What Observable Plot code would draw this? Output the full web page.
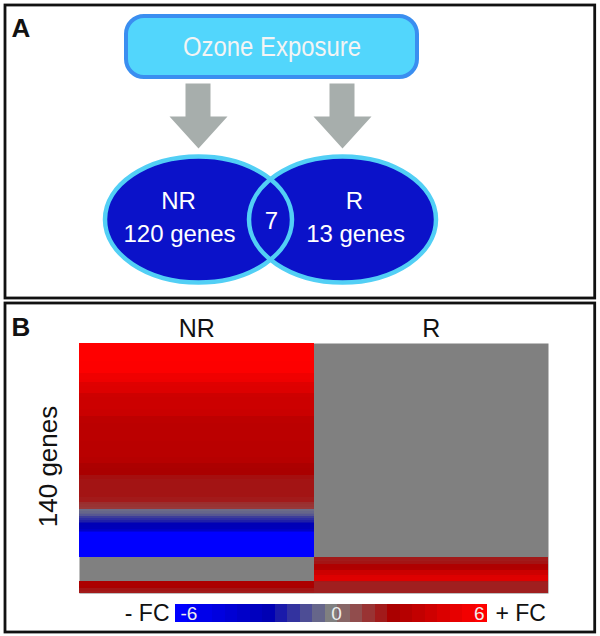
<!DOCTYPE html>
<html><head><meta charset="utf-8">
<script src="https://cdn.jsdelivr.net/npm/d3@7"></script>
<script src="https://cdn.jsdelivr.net/npm/@observablehq/plot@0.6"></script>
<style>
html,body{margin:0;padding:0;background:#fff;}
#fig{position:relative;width:600px;height:636px;}
#fig svg{position:absolute;left:0;overflow:visible;}
</style></head><body><div id="fig"></div>
<script>
// ---------- data ----------
const conditions = ["NR", "R"];
const geneAxisLabel = "140 genes";
// log fold change per gene (row), null = not significant (gray)
const nrFC = [
  6,6,6,6,6,6,6,6,6,6,5.9,5.9,5.9,5.9,5.9,5.9,5.9,
  5.4,5.4,5.4,5.3,5.3,
  4.7,4.7,4.6,4.6,4.6,4.6,
  4.0,4.0,3.9,3.9,3.9,3.9,3.9,3.9,3.9,3.8,3.8,3.8,3.8,
  3.3,3.3,3.3,3.3,3.2,3.2,3.2,3.2,3.2,3.2,3.2,3.2,3.2,3.2,3.1,3.1,3.1,3.1,3.1,3.1,3.1,3.1,3.1,3.0,3.0,3.0,
  2.6,2.6,2.6,2.5,2.5,2.5,2.5,
  2.2,2.2,2.1,2.1,2.1,2.1,2.1,2.1,2.1,2.1,2.1,2.1,2.0,2.0,2.0,
  1.6,1.5,1.5,1.4,
  -0.4,-0.5,-0.6,-0.8,
  -1.3,-1.6,-1.9,-2.2,
  -2.6,-2.7,-2.8,-3.4,-4.5,
  -6,-6,-6,-6,-6,-6,-6,-6,-6,-6,-6,-6,-6,-6,
  null,null,null,null,null,null,null,null,null,null,null,null,null,
  2.6,2.6,2.6,2.5,
  2.1,2.1,2.0
];
const rFC = [
  null,null,null,null,null,null,null,null,null,null,null,null,null,null,null,null,null,null,null,null,
  null,null,null,null,null,null,null,null,null,null,null,null,null,null,null,null,null,null,null,null,
  null,null,null,null,null,null,null,null,null,null,null,null,null,null,null,null,null,null,null,null,
  null,null,null,null,null,null,null,null,null,null,null,null,null,null,null,null,null,null,null,null,
  null,null,null,null,null,null,null,null,null,null,null,null,null,null,null,null,null,null,null,null,
  null,null,null,null,null,null,null,null,null,null,null,null,null,null,null,null,null,null,null,null,
  2.0,2.0,2.1,2.1,
  2.7,2.7,2.8,
  3.9,3.9,4.0,
  4.6,4.7,4.7,
  2.0,1.9,1.9,1.9,1.9,1.9,1.9
];
// color legend
const legendSteps = [-6,-5.5,-5,-4.5,-4,-3.5,-3,-2.5,-2,-1.5,-1,-0.5,0,0.5,1,1.5,2,2.5,3,3.5,4,4.5,5,5.5,6];
const legendTicks = [-6, 0, 6];
const legendEnds = ["- FC", "+ FC"];
// panel A diagram text
const exposureLabel = "Ozone Exposure";
const vennNames = ["NR", "R"];
const vennCounts = ["120 genes", "13 genes"];
const overlapCount = "7";
const panelLetters = ["A", "B"];

// ---------- styles / layout ----------
const FONT = "'Liberation Sans', Arial, Helvetica, sans-serif";
const colorScale = {
  type: "linear",
  domain: [-6, -2.5, 0, 2.5, 6],
  range: ["#0000ff", "#0000b4", "#808080", "#aa0000", "#ff0000"],
  interpolate: "rgb"
};

const fig = document.getElementById("fig");

// ellipse symbol for the Venn diagram
function ellipseSymbol(rx, ry) {
  const k = 0.5522848;
  return {
    draw(ctx) {
      ctx.moveTo(rx, 0);
      ctx.bezierCurveTo(rx, ry * k, rx * k, ry, 0, ry);
      ctx.bezierCurveTo(-rx * k, ry, -rx, ry * k, -rx, 0);
      ctx.bezierCurveTo(-rx, -ry * k, -rx * k, -ry, 0, -ry);
      ctx.bezierCurveTo(rx * k, -ry, rx, -ry * k, rx, 0);
      ctx.closePath();
    }
  };
}

// layout geometry (pixels)
const panels = [{x1: 5, x2: 594.7, y1: 5, y2: 298}, {x1: 5, x2: 594.7, y1: 303, y2: 632}];
const box = [{x1: 126, x2: 417, y1: 16, y2: 77}];
const arrowShape = [[-13,0],[12,0],[12,33],[29,33],[0,65],[-29,33],[-13,33]];
const arrowCenters = [198, 342];
const arrowPts = arrowCenters.flatMap((cx, i) => arrowShape.map(([dx, dy]) => ({x: cx + dx, y: 83 + dy, k: i})));
const ellipses = [{x: 198, y: 219}, {x: 342, y: 219}];
const sym = ellipseSymbol(93.5, 63);

const bg = Plot.plot({
  width: 600, height: 636, margin: 0,
  x: {domain: [0, 600], range: [0, 600], axis: null},
  y: {domain: [0, 636], range: [0, 636], axis: null},
  style: {background: "transparent", fontFamily: FONT},
  marks: [
    Plot.rect(panels, {x1: "x1", x2: "x2", y1: "y1", y2: "y2", fill: "none", stroke: "#111", strokeWidth: 2.8}),
    Plot.rect(box, {x1: "x1", x2: "x2", y1: "y1", y2: "y2", rx: 18, fill: "#52d6fc", stroke: "#3a8ef0", strokeWidth: 4}),
    Plot.text([exposureLabel], {x: () => 271.5, y: () => 55.5, fill: "#f4f4f4", fontSize: 27, lineAnchor: "bottom", className: "exposure"}),
    Plot.line(arrowPts, {x: "x", y: "y", z: "k", fill: "#a7aeac", stroke: "none"}),
    Plot.dot(ellipses, {x: "x", y: "y", symbol: sym, r: 10, fill: "#0b12c9", stroke: "none"}),
    Plot.dot(ellipses, {x: "x", y: "y", symbol: sym, r: 10, fill: "none", stroke: "#52cff5", strokeWidth: 4.5}),
    Plot.text(vennNames, {x: (d, i) => [178, 354][i], y: () => 208, fill: "white", fontSize: 24, lineAnchor: "bottom"}),
    Plot.text(vennCounts, {x: (d, i) => [179, 355][i], y: () => 241, fill: "white", fontSize: 24, lineAnchor: "bottom"}),
    Plot.text([overlapCount], {x: () => 271, y: () => 228, fill: "white", fontSize: 24, lineAnchor: "bottom"}),
    Plot.text(panelLetters, {x: () => 11, y: (d, i) => [36, 335][i], textAnchor: "start", fontWeight: "bold", fontSize: 26, fill: "#111", lineAnchor: "bottom"})
  ]
});
bg.style.top = "0px";
// slightly condensed title text, as in the original figure
bg.querySelectorAll(".exposure text").forEach(t => {
  t.setAttribute("textLength", "178");
  t.setAttribute("lengthAdjust", "spacingAndGlyphs");
});
fig.appendChild(bg);

// ---------- heatmap (panel B) ----------
const genes = nrFC.map((_, i) => i);
const cells = [
  ...genes.map(i => ({cond: "NR", gene: i, fc: nrFC[i]})),
  ...genes.map(i => ({cond: "R", gene: i, fc: rFC[i]}))
];
const heat = Plot.plot({
  width: 600, height: 336,
  marginTop: 43, marginBottom: 43, marginLeft: 79, marginRight: 52,
  x: {domain: conditions, padding: 0, round: false, axis: null},
  y: {domain: genes, padding: 0, round: false, axis: null},
  color: colorScale,
  style: {background: "transparent", fontFamily: FONT},
  marks: [
    Plot.frame({fill: "#808080", stroke: "none"}),
    Plot.cell(cells, {x: "cond", y: "gene", fill: "fc", inset: 0, shapeRendering: "crispEdges"}),
    Plot.text(conditions, {x: d => d, frameAnchor: "top", dy: -7, lineAnchor: "bottom", fontSize: 25, fill: "#111"}),
    Plot.text([geneAxisLabel], {frameAnchor: "left", textAnchor: "middle", dx: -31, dy: -2, rotate: -90, fontSize: 26, fill: "#111"})
  ]
});
heat.style.top = "300px";
fig.appendChild(heat);

// ---------- color legend ----------
const bar = Plot.plot({
  width: 600, height: 34, margin: 0,
  x: {domain: [-6.25, 6.25], range: [175, 487], axis: null},
  y: {domain: [0, 34], range: [0, 34], axis: null},
  color: colorScale,
  style: {background: "transparent", fontFamily: FONT},
  marks: [
    Plot.rect(legendSteps, {x1: d => d - 0.25, x2: d => d + 0.25, y1: () => 8, y2: () => 26, fill: d => d, shapeRendering: "crispEdges"}),
    Plot.text(legendTicks.filter(d => d < 0), {x: () => -6.25, y: () => 17, text: d => String(d),
      textAnchor: "start", dx: 5, fill: "#eeeeee", fontSize: 19}),
    Plot.text(legendTicks.filter(d => d === 0), {x: d => d, y: () => 17, text: d => String(d),
      textAnchor: "middle", dx: 5, fill: "#eeeeee", fontSize: 19}),
    Plot.text(legendTicks.filter(d => d > 0), {x: () => 6.25, y: () => 17, text: d => String(d),
      textAnchor: "end", dx: -3, fill: "#eeeeee", fontSize: 19}),
    Plot.text(legendEnds.slice(0, 1), {x: () => -6.25, y: () => 17, textAnchor: "end", dx: -6, fill: "#111", fontSize: 23}),
    Plot.text(legendEnds.slice(1), {x: () => 6.25, y: () => 17, textAnchor: "start", dx: 8, fill: "#111", fontSize: 23})
  ]
});
bar.style.top = "596px";
fig.appendChild(bar);
</script></body></html>
